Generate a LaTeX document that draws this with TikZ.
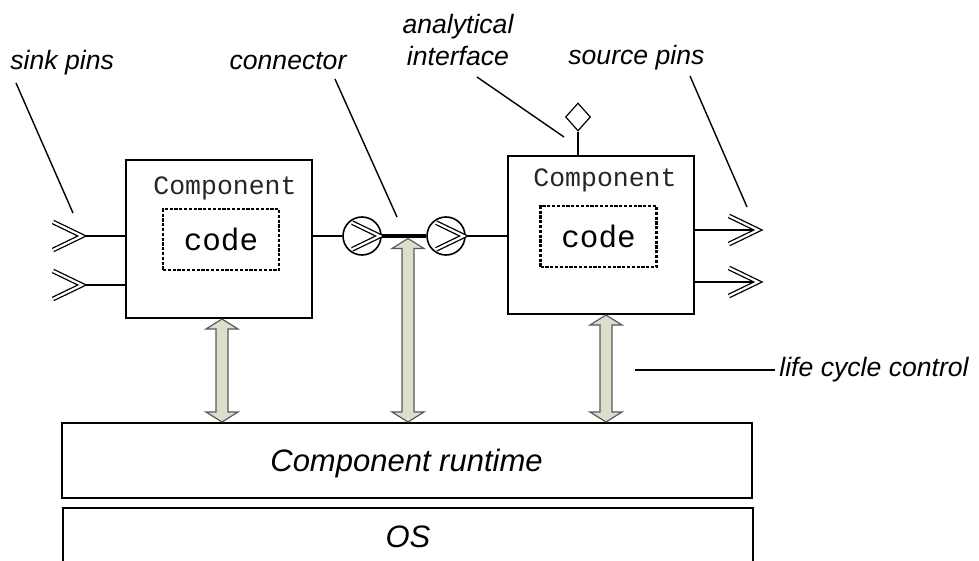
\documentclass[tikz,border=0pt]{standalone}
\usepackage{fontspec}
\setsansfont{Liberation Sans}
\setmonofont{Liberation Mono}
\usetikzlibrary{shapes.geometric,calc}

\definecolor{sage}{HTML}{DCE0CB}

\tikzset{
  comp/.style={draw, line width=1pt, minimum width=93pt, minimum height=79pt, inner sep=0pt},
  codebox/.style={draw, line width=1.3pt, dash pattern=on 1.6pt off 0.8pt,
    minimum width=58pt, minimum height=30.5pt, inner sep=0pt,
    font=\ttfamily\fontsize{15.5}{18}\selectfont},
  ctitle/.style={anchor=base, inner sep=0pt, text=black!85, font=\ttfamily\fontsize{13.25}{16}\selectfont},
  lbl/.style={inner sep=0pt, font=\sffamily\itshape\fontsize{13.3}{16}\selectfont},
  layer/.style={draw, line width=1pt, minimum width=345pt, minimum height=37.5pt,
    inner sep=0pt, text depth=0pt, font=\sffamily\itshape\fontsize{15.5}{18}\selectfont},
  wire/.style={line width=0.8pt},
  leader/.style={line width=0.7pt},
  bus/.style={line width=2pt},
  pincirc/.style={draw, circle, line width=0.8pt, minimum size=19pt, inner sep=0pt},
  iface/.style={draw, diamond, line width=0.6pt, minimum width=12.5pt, minimum height=14pt, inner sep=0pt},
  lca/.style={draw=black!65, fill=sage, line width=0.6pt, line join=miter},
  chevron/.pic={\draw[line width=0.65pt, double, double distance=1.1pt] (-29,-14) -- (0,0) -- (-29,14);}
}

% double headed block arrow between two points (same x)
\newcommand{\lifearrow}[2]{%
  \draw[lca] let \p1=#1, \p2=#2 in
    (\x1,\y1) -- (\x1+8pt,\y1-5pt) -- (\x1+3pt,\y1-5pt) -- (\x1+3pt,\y2+5pt)
    -- (\x1+8pt,\y2+5pt) -- (\x1,\y2) -- (\x1-8pt,\y2+5pt) -- (\x1-3pt,\y2+5pt)
    -- (\x1-3pt,\y1-5pt) -- (\x1-8pt,\y1-5pt) -- cycle;}

\begin{document}
\begin{tikzpicture}[x=0.5pt, y=-0.5pt]
  \useasboundingbox (0,0) rectangle (979,561);

  % components
  \node[comp] (compA) at (218.5,239) {};
  \node[comp] (compB) at (600.5,235) {};
  \node[ctitle] (titleA) at (225,195) {Component};
  \node[ctitle] (titleB) at (605,187) {Component};
  \node[codebox] (codeA) at (221,239.5) {code};
  \node[codebox] (codeB) at (598.5,236.5) {code};

  % runtime and OS
  \node[layer] (runtime) at (406.5,460.5) {Component runtime};
  \node[layer, anchor=north, minimum height=60pt] (os) at (408,507) {};
  \node[lbl, anchor=base, font=\sffamily\itshape\fontsize{15.5}{18}\selectfont] (ostext) at (408,547) {OS};

  % sink pins
  \coordinate (sink1) at (82,236);
  \coordinate (sink2) at (82,285);
  \foreach \p in {sink1,sink2} {
    \draw[wire] (\p) -- (\p -| compA.west);
    \pic at (\p) {chevron};
  }

  % connector
  \node[pincirc] (cin) at (362,236) {};
  \node[pincirc] (cout) at (446,236) {};
  \pic[scale=0.95] at ([xshift=-1pt]cin.east) {chevron};
  \pic[scale=0.95] at ([xshift=-1pt]cout.east) {chevron};
  \draw[wire] (cin -| compA.east) -- (cin.west);
  \draw[bus] (cin.east) -- (cout.west);
  \draw[wire] (cout.east) -- (cout -| compB.west);

  % source pins
  \coordinate (src1) at (758,230);
  \coordinate (src2) at (758,282);
  \foreach \p in {src1,src2} {
    \draw[wire] (\p -| compB.east) -- (\p);
    \pic at (\p) {chevron};
  }

  % analytical interface
  \node[iface] (ai) at (578,117) {};
  \draw[wire] (ai.south) -- (ai.south |- compB.north);

  % life cycle arrows
  \coordinate (tap) at (408,238.5);
  \lifearrow{(compA.south -| 222,0)}{(runtime.north -| 222,0)}
  \lifearrow{(tap)}{(runtime.north -| tap)}
  \lifearrow{(compB.south -| 606,0)}{(runtime.north -| 606,0)}

  % labels
  \node[lbl, anchor=base west] (sinklbl) at (10,70) {sink pins};
  \node[lbl, anchor=base] (conlbl) at (288,70) {connector};
  \node[lbl, anchor=north, align=center] (ailbl) at (458,14) {analytical\\interface};
  \node[lbl, anchor=base west] (srclbl) at (568,65) {source pins};
  \node[lbl, anchor=base west] (lclbl) at (779,376) {life cycle control};

  % leader lines
  \coordinate (sinkA) at (16,83);   \coordinate (sinkB) at (73,213);
  \coordinate (conA) at (335,79);   \coordinate (conB) at (397,217);
  \coordinate (aiA) at (477,77);    \coordinate (aiB) at (564,137);
  \coordinate (srcA) at (690,76);   \coordinate (srcB) at (747,207);
  \coordinate (lcA) at (635,370);
  \draw[leader] (sinkA) -- (sinkB);
  \draw[leader] (conA) -- (conB);
  \draw[leader] (aiA) -- (aiB);
  \draw[leader] (srcA) -- (srcB);
  \draw[leader] (lcA) -- ([xshift=-2pt]lclbl.west |- lcA);
\end{tikzpicture}
\end{document}
